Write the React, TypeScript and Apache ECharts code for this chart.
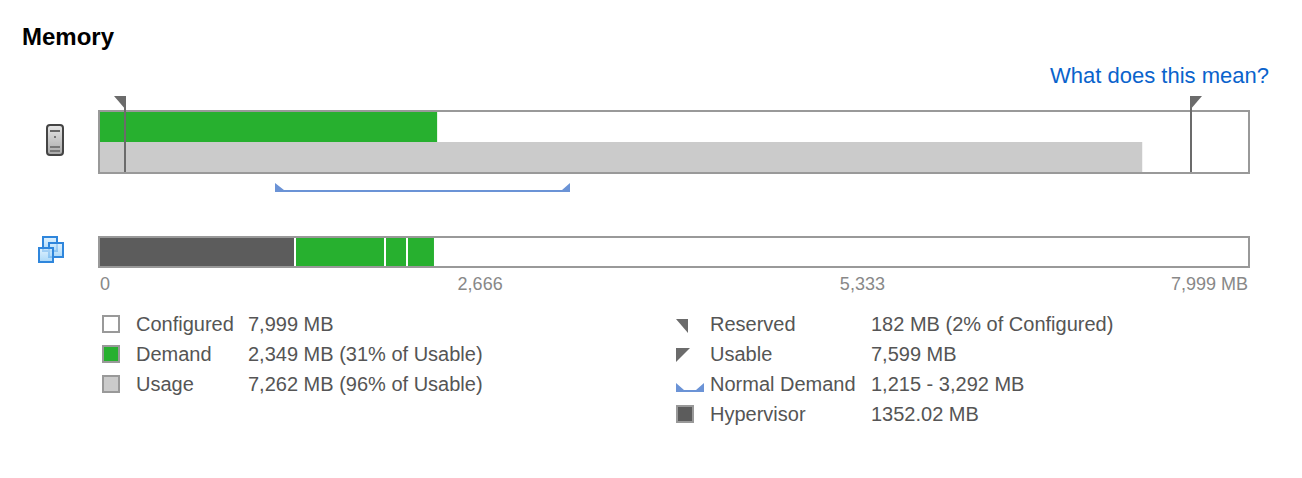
import React, { useEffect, useRef } from "react";
import * as echarts from "echarts";

const configured = 7999;
const demand = 2349;
const usage = 7262;
const reserved = 182;
const usable = 7599;
const normalDemand = [1215, 3292];
const hypervisor = 1352;
const vmSegments = [627, 153, 195];
const axisTicks = [0, 2666, 5333, 7999];
const axisTickLabels = ["0", "{a|2,666}", "{b|5,333}", "7,999 MB"];
const legendLeft = [
  ["Configured", "7,999 MB"],
  ["Demand", "2,349 MB (31% of Usable)"],
  ["Usage", "7,262 MB (96% of Usable)"],
];
const legendRight = [
  ["Reserved", "182 MB (2% of Configured)"],
  ["Usable", "7,599 MB"],
  ["Normal Demand", "1,215 - 3,292 MB"],
  ["Hypervisor", "1352.02 MB"],
];

const GREEN = "#27b02f";
const GRAY = "#cbcbcb";
const DARK = "#5c5c5c";
const FRAME = "#999999";
const TEXT = "#555555";
const FLAG = "#6b6b6b";
const BLUE = "#6b93d6";
const FONT = "'Liberation Sans', Arial, sans-serif";

const rowY = [324, 354, 384, 414];

const txt = (x: number, y: number, text: string, extra: any = {}) => ({
  type: "text",
  x,
  y,
  z: 10,
  style: { text, fontFamily: FONT, fontSize: 20, fill: TEXT, textVerticalAlign: "middle", verticalAlign: "middle", ...extra },
});

const swatch = (x: number, y: number, fill: string) => ({
  type: "rect",
  z: 10,
  shape: { x: x + 1, y: y + 1, width: 16, height: 16 },
  style: { fill, stroke: FRAME, lineWidth: 2 },
});

const poly = (points: number[][], fill: string, z = 10) => ({
  type: "polygon",
  z,
  shape: { points },
  style: { fill },
});

const frame = (y: number, h: number) => ({
  type: "rect",
  z: 3,
  shape: { x: 99, y, width: 1150, height: h },
  style: { fill: "none", stroke: FRAME, lineWidth: 2 },
});

const vg = (x: number, y: number, size: number) => ({
  type: "rect",
  z: 10,
  shape: { x, y, width: size, height: size },
  style: {
    fill: new echarts.graphic.LinearGradient(0, 0, 0, 1, [
      { offset: 0, color: "rgba(214,238,255,0.75)" },
      { offset: 1, color: "rgba(142,203,246,0.75)" },
    ]),
    stroke: "#2f86dc",
    lineWidth: 2,
  },
});

const graphics: any[] = [
  frame(111, 62),
  frame(237, 30),
  txt(22, 36, "Memory", { fontSize: 24, fontWeight: "bold", fill: "#000000" }),
  txt(1269, 75, "What does this mean?", { fontSize: 22, fill: "#0a63cc", align: "right", textAlign: "right" }),
  // server icon
  {
    type: "rect",
    z: 10,
    shape: { x: 47, y: 125, width: 16, height: 30, r: 3 },
    style: {
      fill: new echarts.graphic.LinearGradient(0, 0, 0, 1, [
        { offset: 0, color: "#e6e6e6" },
        { offset: 1, color: "#a8a8a8" },
      ]),
      stroke: "#444444",
      lineWidth: 2,
    },
  },
  { type: "rect", z: 11, shape: { x: 50, y: 130, width: 10, height: 2 }, style: { fill: "#666666" } },
  { type: "rect", z: 11, shape: { x: 54, y: 136, width: 2, height: 2 }, style: { fill: "#777777" } },
  { type: "rect", z: 11, shape: { x: 50, y: 146, width: 10, height: 2 }, style: { fill: "#777777" } },
  { type: "rect", z: 11, shape: { x: 50, y: 150, width: 10, height: 2 }, style: { fill: "#777777" } },
  // VM icon
  vg(43, 237, 14),
  vg(49, 243, 14),
  vg(39, 248, 14),
  // left legend
  swatch(102, 315, "#ffffff"),
  swatch(102, 345, GREEN),
  swatch(102, 375, GRAY),
  ...legendLeft.flatMap(([name, value], i) => [txt(136, rowY[i], name), txt(248, rowY[i], value)]),
  // right legend
  poly([[676, 319], [688, 319], [688, 333]], FLAG),
  poly([[676, 348], [690, 348], [676, 362]], FLAG),
  poly([[676, 383], [684, 390], [696, 390], [704, 383], [704, 392], [676, 392]], BLUE),
  swatch(676, 405, DARK),
  ...legendRight.flatMap(([name, value], i) => [txt(710, rowY[i], name), txt(871, rowY[i], value)]),
];

const flagSeries = (value: number, side: "left" | "right") => ({
  type: "custom",
  xAxisIndex: 0,
  yAxisIndex: 0,
  z: 6,
  silent: true,
  data: [[value]],
  renderItem: (params: any, api: any) => {
    const cx = Math.round(api.coord([api.value(0), 0])[0]);
    const lineX = side === "left" ? cx - 2 : cx - 1;
    const top = 96;
    const bottom = params.coordSys.y + params.coordSys.height;
    const pts = side === "left"
      ? [[lineX - 10, top], [lineX + 2, top], [lineX + 2, top + 14]]
      : [[lineX, top], [lineX + 12, top], [lineX, top + 14]];
    return {
      type: "group",
      children: [
        { type: "rect", shape: { x: lineX, y: top, width: 2, height: bottom - top }, style: { fill: FLAG } },
        { type: "polygon", shape: { points: pts }, style: { fill: FLAG } },
      ],
    };
  },
});

const option: any = {
  animation: false,
  backgroundColor: "#ffffff",
  textStyle: { fontFamily: FONT },
  grid: [
    { left: 100, top: 112, width: 1148, height: 60 },
    { left: 100, top: 238, width: 1148, height: 28 },
  ],
  xAxis: [
    { gridIndex: 0, type: "value", min: 0, max: configured, show: false },
    {
      gridIndex: 1,
      type: "value",
      min: 0,
      max: configured,
      axisLine: { show: false },
      axisTick: { show: false },
      splitLine: { show: false },
      axisLabel: {
        customValues: axisTicks,
        alignMinLabel: "left",
        alignMaxLabel: "right",
        showMinLabel: true,
        showMaxLabel: true,
        margin: 9,
        color: "#888888",
        fontSize: 18,
        fontFamily: FONT,
        formatter: (v: number) => axisTickLabels[axisTicks.indexOf(v)],
        rich: {
          a: { fontSize: 18, color: "#888888", fontFamily: FONT, padding: [0, 5, 0, 0] },
          b: { fontSize: 18, color: "#888888", fontFamily: FONT, padding: [0, 6, 0, 0] },
        },
      },
    },
  ],
  yAxis: [
    { gridIndex: 0, type: "category", inverse: true, data: ["Demand", "Usage"], show: false },
    { gridIndex: 1, type: "category", data: ["VMs"], show: false },
  ],
  series: [
    {
      name: "Demand",
      type: "bar",
      xAxisIndex: 0,
      yAxisIndex: 0,
      barWidth: "100%",
      barGap: "-100%",
      data: [demand, null],
      itemStyle: { color: GREEN },
    },
    {
      name: "Usage",
      type: "bar",
      xAxisIndex: 0,
      yAxisIndex: 0,
      barWidth: "100%",
      barGap: "-100%",
      data: [null, usage],
      itemStyle: { color: GRAY },
    },
    {
      name: "Hypervisor",
      type: "bar",
      xAxisIndex: 1,
      yAxisIndex: 1,
      stack: "mem",
      barWidth: "100%",
      data: [hypervisor],
      itemStyle: { color: DARK },
    },
    ...vmSegments.map((v, i) => ({
      name: `VM ${i + 1}`,
      type: "bar",
      xAxisIndex: 1,
      yAxisIndex: 1,
      stack: "mem",
      barWidth: "100%",
      data: [v],
      itemStyle: { color: GREEN },
    })),
    {
      type: "custom",
      xAxisIndex: 1,
      yAxisIndex: 1,
      z: 5,
      silent: true,
      data: [
        [hypervisor],
        [hypervisor + vmSegments[0]],
        [hypervisor + vmSegments[0] + vmSegments[1]],
      ],
      renderItem: (params: any, api: any) => {
        const x = Math.round(api.coord([api.value(0), 0])[0]);
        return {
          type: "rect",
          shape: { x, y: params.coordSys.y, width: 2, height: params.coordSys.height },
          style: { fill: "#ffffff" },
        };
      },
    },
    flagSeries(reserved, "left"),
    flagSeries(usable, "right"),
    {
      type: "custom",
      xAxisIndex: 0,
      yAxisIndex: 0,
      z: 6,
      silent: true,
      data: [normalDemand],
      renderItem: (_params: any, api: any) => {
        const a = Math.round(api.coord([api.value(0), 0])[0]) + 1;
        const b = Math.round(api.coord([api.value(1), 0])[0]) - 2;
        return {
          type: "polygon",
          shape: {
            points: [[a, 183], [a + 9, 190], [b - 8, 190], [b, 183], [b, 192], [a, 192]],
          },
          style: { fill: BLUE },
        };
      },
    },
  ],
  graphic: graphics,
};

export default function App() {
  const ref = useRef<HTMLDivElement>(null);
  useEffect(() => {
    const chart = echarts.init(ref.current!, null, { renderer: "svg" });
    chart.setOption(option);
    return () => chart.dispose();
  }, []);
  return <div ref={ref} style={{ position: "absolute", left: 0, top: 0, width: 1302, height: 478 }} />;
}
